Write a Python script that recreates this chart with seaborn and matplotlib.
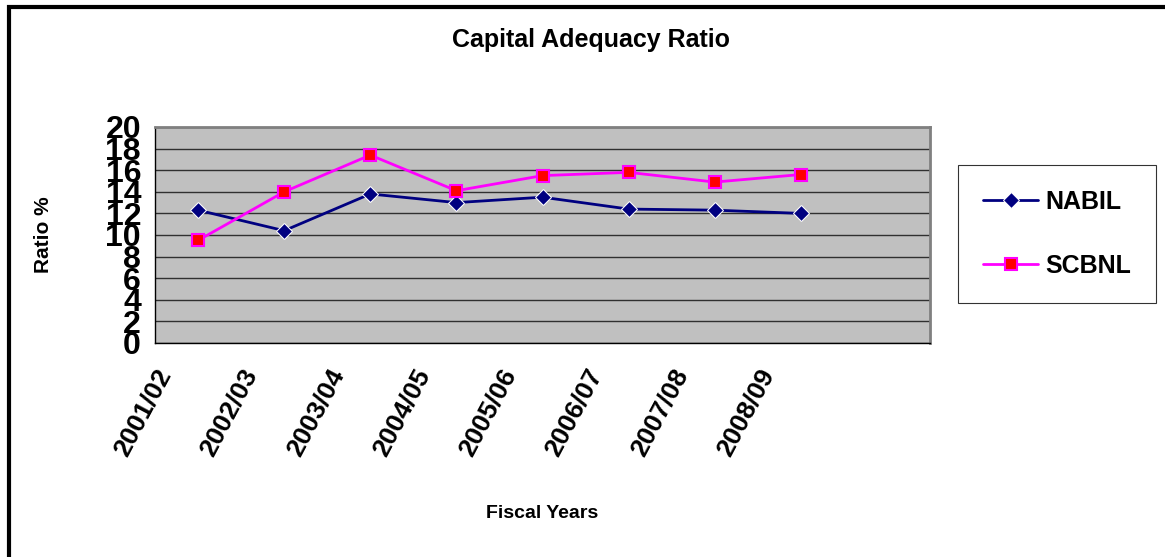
import pandas as pd
import numpy as np
import matplotlib
matplotlib.use("Agg")
import matplotlib.pyplot as plt
from matplotlib.patches import Rectangle
from matplotlib.ticker import FixedLocator
import seaborn as sns

# values
years = ['2001/02', '2002/03', '2003/04', '2004/05', '2005/06', '2006/07', '2007/08', '2008/09']
nabil = [12.3, 10.4, 13.8, 13.0, 13.5, 12.4, 12.3, 12.0]
scbnl = [9.5, 14.0, 17.4, 14.1, 15.5, 15.8, 14.9, 15.6]
banks = ['NABIL', 'SCBNL']

df = pd.DataFrame({'year': years * 2,
                   'ratio': nabil + scbnl,
                   'bank': [banks[0]] * len(years) + [banks[1]] * len(years)})

sns.set_style('white')
plt.rcParams['font.family'] = ['Liberation Sans', 'DejaVu Sans']
plt.rcParams['font.weight'] = 'bold'
for key in ['text.color', 'axes.labelcolor', 'xtick.color', 'ytick.color']:
    plt.rcParams[key] = 'black'

fig = plt.figure(figsize=(11.65, 5.57), dpi=100)
ax = fig.add_axes([155 / 1165, 1 - 343 / 557, 775 / 1165, 216 / 557])
ax.set_facecolor('#C0C0C0')

sns.lineplot(data=df, x='year', y='ratio', hue='bank', style='bank',
             palette={'NABIL': '#000080', 'SCBNL': '#FF00FF'},
             markers={'NABIL': 'D', 'SCBNL': 's'}, dashes=False,
             markersize=8, linewidth=2, ax=ax, sort=False)

# red square faces for SCBNL
for line in ax.lines:
    if line.get_marker() == 's':
        line.set_markerfacecolor('#FF0000')
        line.set_markeredgecolor('#FF00FF')
        line.set_markeredgewidth(1.5)

ax.set_xlim(-0.5, len(years) + 0.5)
ax.set_ylim(0, 20)
ax.set_yticks(np.arange(0, 21, 2))
ax.yaxis.grid(True, color='#303030', linewidth=1)
ax.set_axisbelow(True)

# labels sit a little left of the category centres, ticks at category boundaries
ax.set_xticks(np.arange(len(years)) - 0.5)
ax.set_xticklabels(years, rotation=62, ha='right', va='top', rotation_mode='anchor',
                   fontsize=19, fontweight='bold')
ax.xaxis.set_minor_locator(FixedLocator(np.arange(-0.5, len(years) + 1, 1)))
ax.tick_params(axis='x', which='major', length=0, pad=16)
ax.tick_params(axis='x', which='minor', length=7, width=1, color='black', direction='out')
ax.tick_params(axis='y', length=7, width=1, color='black', direction='out', labelsize=23, pad=3)
for lab in ax.get_yticklabels():
    lab.set_fontweight('bold')

for side in ['left', 'bottom']:
    ax.spines[side].set_color('black')
    ax.spines[side].set_linewidth(1)
for side in ['top', 'right']:
    ax.spines[side].set_color('#808080')
    ax.spines[side].set_linewidth(2)

ax.set_xlabel('Fiscal Years', fontsize=14, fontweight='bold')
ax.xaxis.set_label_coords(0.5, -0.75)
ax.set_ylabel('Ratio %', fontsize=15, fontweight='bold')
ax.yaxis.set_label_coords(-0.132, 0.5)

fig.suptitle('Capital Adequacy Ratio', x=0.507, y=1 - 40 / 557, va='center',
             fontsize=18, fontweight='bold')

handles, labels = ax.get_legend_handles_labels()
ax.get_legend().remove()
leg = fig.legend(handles, labels, loc='upper left',
                 bbox_to_anchor=(958 / 1165, 1 - 165 / 557),
                 frameon=True, fancybox=False, edgecolor='black',
                 prop={'size': 18, 'weight': 'bold'},
                 handlelength=2.2, labelspacing=1.6, borderpad=1.0,
                 handletextpad=0.3, borderaxespad=0)
leg.get_frame().set_linewidth(0.8)

# outer chart border
fig.patches.append(Rectangle((9 / 1165, -0.02), 1.1, 1.02 - 7 / 557,
                             transform=fig.transFigure, fill=False,
                             edgecolor='black', linewidth=3))

fig.savefig('out.png', dpi=100)
